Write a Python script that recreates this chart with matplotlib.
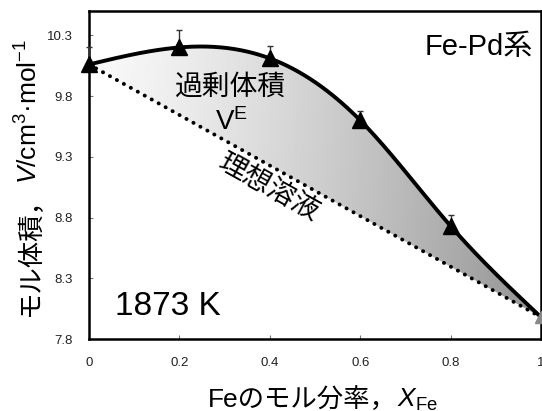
import numpy as np
import matplotlib
matplotlib.use("Agg")
import matplotlib.pyplot as plt
from matplotlib.patches import Polygon

plt.rcParams['font.family'] = ['Liberation Sans', 'Noto Sans CJK JP', 'DejaVu Sans']
plt.rcParams['mathtext.fontset'] = 'custom'
plt.rcParams['mathtext.rm'] = 'Liberation Sans'
plt.rcParams['mathtext.it'] = 'Liberation Sans:italic'
plt.rcParams['mathtext.bf'] = 'Liberation Sans:bold'
plt.rcParams['mathtext.default'] = 'regular'

# Molar volume of liquid Fe-Pd alloys at 1873 K
x_fe = [0.0, 0.2, 0.4, 0.6, 0.8, 1.0]
volume = [10.06, 10.20, 10.11, 9.60, 8.73, 7.98]
err_up = [0.14, 0.14, 0.10, 0.08, 0.09, 0.0]

x_ticks = [0, 0.2, 0.4, 0.6, 0.8, 1]
x_ticklabels = ['0', '0.2', '0.4', '0.6', '0.8', '1']
y_ticks = [7.8, 8.3, 8.8, 9.3, 9.8, 10.3]


def natural_spline(xk, yk, xq):
    """Natural cubic spline through the knots (xk, yk), evaluated at xq."""
    xk = np.asarray(xk, float)
    yk = np.asarray(yk, float)
    n = len(xk)
    h = np.diff(xk)
    A = np.zeros((n, n))
    b = np.zeros(n)
    A[0, 0] = A[-1, -1] = 1.0
    for i in range(1, n - 1):
        A[i, i - 1] = h[i - 1]
        A[i, i] = 2 * (h[i - 1] + h[i])
        A[i, i + 1] = h[i]
        b[i] = 6 * ((yk[i + 1] - yk[i]) / h[i] - (yk[i] - yk[i - 1]) / h[i - 1])
    M = np.linalg.solve(A, b)
    idx = np.clip(np.searchsorted(xk, xq) - 1, 0, n - 2)
    x0, x1 = xk[idx], xk[idx + 1]
    hh = x1 - x0
    t0, t1 = x1 - xq, xq - x0
    return (M[idx] * t0 ** 3 / (6 * hh) + M[idx + 1] * t1 ** 3 / (6 * hh)
            + (yk[idx] / hh - M[idx] * hh / 6) * t0
            + (yk[idx + 1] / hh - M[idx + 1] * hh / 6) * t1)


W, H = 542, 411
fig = plt.figure(figsize=(W / 100, H / 100), dpi=100)
ax = fig.add_axes([89 / W, 1 - 339 / H, 452 / W, 328 / H])
ax.set_xlim(0, 1)
ax.set_ylim(7.8, 10.5)

# smooth curve through the measurements and the ideal-solution line
xs = np.linspace(0, 1, 400)
curve = natural_spline(x_fe, volume, xs)
ideal = volume[0] + (volume[-1] - volume[0]) * xs

# excess-volume region shaded with a grey gradient
poly_pts = np.vstack([np.column_stack([xs, curve]),
                      np.column_stack([xs[::-1], ideal[::-1]])])
region = Polygon(poly_pts, closed=True, facecolor='none', edgecolor='none')
ax.add_patch(region)
gx, gy = np.meshgrid(np.linspace(0, 1, 400), np.linspace(7.8, 10.5, 300))
shade = 0.98 - 0.38 * gx ** 1.3 - 0.03 * (10.5 - gy) / 2.7
img = ax.imshow(shade, extent=[0, 1, 7.8, 10.5], origin='lower', aspect='auto',
                cmap='gray', vmin=0, vmax=1, interpolation='bilinear', zorder=1)
img.set_clip_path(region)

ax.plot(xs, ideal, color='black', lw=2.8, linestyle=(0, (0.05, 2.0)),
        dash_capstyle='round', zorder=2)
ax.plot(xs, curve, color='black', lw=2.8, zorder=3)

# upward error bars and triangle markers
ax.errorbar(x_fe[:-1], volume[:-1], yerr=[[0] * 5, err_up[:-1]], fmt='none',
            ecolor='#333333', elinewidth=1.0, capsize=2, capthick=1.0,
            zorder=3, clip_on=False)
ax.plot(x_fe[:-1], volume[:-1], linestyle='none', marker='^', markersize=11,
        color='black', zorder=4, clip_on=False)
ax.plot(x_fe[-1:], volume[-1:], linestyle='none', marker='^', markersize=9,
        color='#888888', zorder=4, clip_on=False)

ax.set_xticks(x_ticks)
ax.set_xticklabels(x_ticklabels)
ax.set_yticks(y_ticks)
ax.set_yticklabels([f'{v:.1f}' for v in y_ticks])
ax.tick_params(direction='in', length=3, width=0.8, color='#777777',
               labelsize=9.5, labelcolor='#222222')
ax.tick_params(axis='y', pad=12)
ax.tick_params(axis='x', pad=13)
for sp in ax.spines.values():
    sp.set_linewidth(1.8)

ax.text(0.982, 0.866, 'Fe-Pd系', transform=ax.transAxes, ha='right',
        va='baseline', fontsize=21)
ax.text(0.0575, 0.073, '1873 K', transform=ax.transAxes, ha='left',
        va='baseline', fontsize=24)
ax.text(0.312, 0.765, '過剰体積', transform=ax.transAxes, ha='center',
        va='center', fontsize=20, zorder=5)
ax.text(0.316, 0.662, r'V$^{\mathrm{E}}$', transform=ax.transAxes,
        ha='center', va='center', fontsize=20, zorder=5)
ax.text(0.396, 0.46, '理想溶液', transform=ax.transAxes, ha='center',
        va='center', fontsize=20, rotation=-29, rotation_mode='anchor', zorder=5)

# axis titles built from a Japanese part and a math part sharing one baseline
px = lambda x, y: (x / W, 1 - y / H)
fig.text(*px(38, 184), 'モル体積，', rotation=90, rotation_mode='anchor',
         ha='right', va='baseline', fontsize=19)
fig.text(*px(38, 184), r'$\mathit{V}$/cm$^{3}$·mol$^{-1}$', rotation=90,
         rotation_mode='anchor', ha='left', va='baseline', fontsize=19)
fig.text(*px(397, 407), 'Feのモル分率，', ha='right', va='baseline',
         fontsize=19)
fig.text(*px(397, 407), r'$\mathit{X}_{\mathrm{Fe}}$', ha='left',
         va='baseline', fontsize=19)

fig.savefig('out.png', dpi=100)
